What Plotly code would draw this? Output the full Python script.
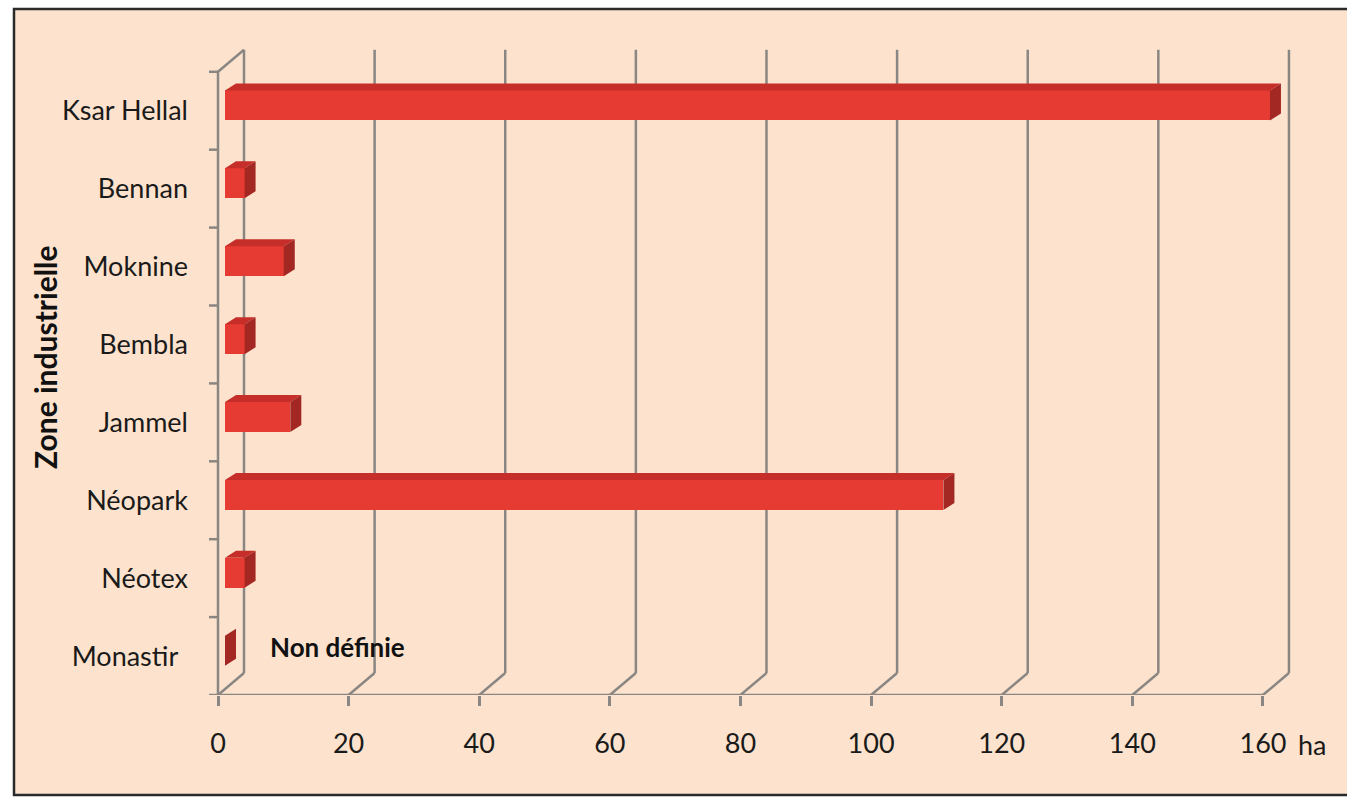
import plotly.graph_objects as go

# ---------------- data ----------------
zones = ["Monastir", "Néotex", "Néopark", "Jammel", "Bembla", "Moknine", "Bennan", "Ksar Hellal"]
surface_ha = [0, 3, 110, 10, 3, 9, 3, 160]
x_ticks = [0, 20, 40, 60, 80, 100, 120, 140, 160]
x_unit = "ha"
y_title = "Zone industrielle"
note_text = "Non définie"
note_zone = "Monastir"

# ---------------- geometry / style ----------------
OFF = 0                           # page body margin removed via post_script
W, H = 1347, 797
L, T, B = 205 - OFF, 40 - OFF, 102
R = W - (1320 - OFF)
plot_w = W - L - R
plot_h = H - T - B
px_x = 6.531                      # pixels per ha
px_y = 77.9                       # pixels per category
x_range = [-13 / px_x, -13 / px_x + plot_w / px_x]
y_range = [-0.5, -0.5 + plot_h / px_y]

DX, DY = 26 / px_x, 22 / px_y     # chart depth
BX, BY = 7 / px_x, 5.3 / px_y     # bar front-face depth
SX, SY = 11 / px_x, 7 / px_y      # bar thickness in depth
BH = 30 / px_y                    # bar front height

BG = "#FDE3CD"
GRID = "#8A8683"
FRONT = "#E53B33"
TOP = "#C62E29"
SIDE = "#A32723"
FONT = "Lato, Carlito, 'Open Sans', sans-serif"
TXT = "#1a1a1a"

n = len(zones)
ypos = list(range(n))
tick_text = [z + "\u00a0\u2009" if z == "Monastir" else z for z in zones]

fig = go.Figure()

# front faces of the bars
fig.add_trace(go.Bar(
    y=[i + BY for i in ypos], x=surface_ha, base=[BX] * n, orientation="h",
    width=BH, marker=dict(color=FRONT, line=dict(width=0)),
    hoverinfo="skip", showlegend=False,
))

# top and side faces
for i, v in zip(ypos, surface_ha):
    yc = i + BY
    yt, yb = yc + BH / 2, yc - BH / 2
    if v > 0:
        fig.add_trace(go.Scatter(
            x=[BX, BX + v, BX + v + SX, BX + SX, BX],
            y=[yt, yt, yt + SY, yt + SY, yt],
            fill="toself", fillcolor=TOP, mode="lines", line=dict(width=0),
            hoverinfo="skip", showlegend=False))
    fig.add_trace(go.Scatter(
        x=[BX + v, BX + v + SX, BX + v + SX, BX + v, BX + v],
        y=[yb, yb + SY, yt + SY, yt, yb],
        fill="toself", fillcolor=SIDE, mode="lines", line=dict(width=0),
        hoverinfo="skip", showlegend=False))


def px2paper_x(p):
    return (p - OFF - L) / plot_w


def px2paper_y(p):
    return (H - B - (p - OFF)) / plot_h


shapes = []
# background panel with frame
shapes.append(dict(type="rect", xref="paper", yref="paper", layer="below",
                   x0=px2paper_x(14), x1=px2paper_x(1400), y0=px2paper_y(795), y1=px2paper_y(9),
                   fillcolor=BG, line=dict(color="#2a2a2a", width=2.5)))

ylo, yhi = -0.5, n - 0.5
# back gridlines + floor diagonals
for v in x_ticks:
    shapes.append(dict(type="line", xref="x", yref="y", layer="below",
                       x0=v + DX, x1=v + DX, y0=ylo + DY, y1=yhi + DY,
                       line=dict(color=GRID, width=2.5)))
    shapes.append(dict(type="line", xref="x", yref="y", layer="below",
                       x0=v, x1=v + DX, y0=ylo, y1=ylo + DY,
                       line=dict(color=GRID, width=2.5)))
# left wall top diagonal
shapes.append(dict(type="line", xref="x", yref="y", layer="below",
                   x0=0, x1=DX, y0=yhi, y1=yhi + DY, line=dict(color=GRID, width=2.5)))
# front axes
shapes.append(dict(type="line", xref="x", yref="y", layer="below",
                   x0=0, x1=0, y0=ylo, y1=yhi, line=dict(color=GRID, width=2.5)))
shapes.append(dict(type="line", xref="x", yref="y", layer="below",
                   x0=0, x1=max(x_ticks), y0=ylo, y1=ylo, line=dict(color=GRID, width=2.5)))
# category boundary ticks
for k in range(n + 1):
    shapes.append(dict(type="line", xref="x", yref="y", layer="below",
                       x0=-9 / px_x, x1=0, y0=k - 0.5, y1=k - 0.5,
                       line=dict(color=GRID, width=2.5)))

fig.update_layout(
    width=W, height=H,
    margin=dict(l=L, r=R, t=T, b=B, pad=0),
    paper_bgcolor="white", plot_bgcolor="rgba(0,0,0,0)",
    shapes=shapes,
    font=dict(family=FONT, color=TXT, size=22),
    bargap=0,
    xaxis=dict(range=x_range, tickvals=x_ticks, ticktext=[str(t) for t in x_ticks],
               showgrid=False, zeroline=False, showline=False,
               ticks="outside", ticklen=10, tickwidth=2.5, tickcolor=GRID,
               tickfont=dict(size=27, family=FONT, color=TXT), ticklabelstandoff=15),
    yaxis=dict(range=y_range, tickvals=ypos, ticktext=tick_text,
               showgrid=False, zeroline=False, showline=False, ticks="",
               tickfont=dict(size=27, family=FONT, color=TXT), ticklabelstandoff=16),
    annotations=[
        dict(x=px2paper_x(45), xref="paper", y=px2paper_y(357), yref="paper",
             text="<b>" + y_title + "</b>", textangle=-90, showarrow=False,
             xanchor="center", yanchor="middle",
             font=dict(size=30, family=FONT, color="#111")),
        dict(x=px2paper_x(1312), xref="paper", y=px2paper_y(744), yref="paper", text=x_unit,
             showarrow=False, xanchor="center", yanchor="middle",
             font=dict(size=27, family=FONT, color=TXT)),
        dict(x=px2paper_x(268), xref="paper", y=zones.index(note_zone) + 0.12, yref="y",
             text="<b>" + note_text + "</b>", showarrow=False, xanchor="left", yanchor="middle",
             font=dict(size=26, family=FONT, color="#111")),
    ],
)

fig.write_html("out.html", config={"displayModeBar": False},
               post_script="document.body.style.margin='0';document.body.style.overflow='hidden';")
